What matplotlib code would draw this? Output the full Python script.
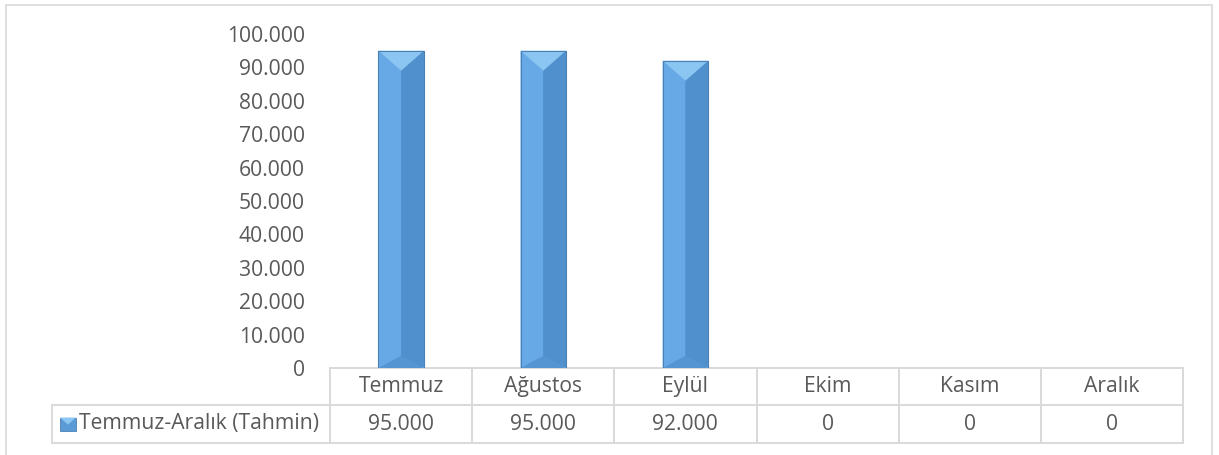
import matplotlib.pyplot as plt
from matplotlib.patches import Polygon, Rectangle
from matplotlib.transforms import blended_transform_factory

months = ["Temmuz", "Ağustos", "Eylül", "Ekim", "Kasım", "Aralık"]
values = [95000, 95000, 92000, 0, 0, 0]
value_labels = ["95.000", "95.000", "92.000", "0", "0", "0"]
series_name = "Temmuz-Aralık (Tahmin)"
yticks = list(range(0, 100001, 10000))
ytick_labels = ["0"] + [f"{v // 1000}.000" for v in yticks[1:]]

plt.rcParams['font.family'] = ['Open Sans', 'DejaVu Sans']
txt = "#595959"
grid = "#d9d9d9"
fsize = 15.2

fig = plt.figure(figsize=(12.19, 4.55), dpi=100)
ax = fig.add_axes([330 / 1219, 1 - 368 / 455, 853 / 1219, 334 / 455])

# outer chart border
fig.patches.append(Rectangle((6 / 1219, -0.05), 1206 / 1219, 1 - 5 / 455 + 0.05,
                             transform=fig.transFigure, fill=False,
                             edgecolor=grid, lw=1.2))

x = list(range(len(months)))
w = 0.32
bars = ax.bar(x, values, width=w, color="#5b9bd5", edgecolor="#4a7fb0", lw=0.6, zorder=2)

# bevel shading on each bar, built from the bar geometry
px = 100000 / 334
for b in bars:
    h = b.get_height()
    if h <= 0:
        continue
    x0, x1 = b.get_x(), b.get_x() + b.get_width()
    xm = (x0 + x1) / 2
    d = 20 * px
    db = 12 * px
    ax.add_patch(Polygon([(x0, 0), (xm, db), (xm, h - d), (x0, h)],
                         closed=True, color="#67a9e6", lw=0, zorder=3))
    ax.add_patch(Polygon([(x1, 0), (xm, db), (xm, h - d), (x1, h)],
                         closed=True, color="#5090cc", lw=0, zorder=3))
    ax.add_patch(Polygon([(x0, h), (x1, h), (xm, h - d)],
                         closed=True, color="#8bc6f2", lw=0, zorder=3))
    ax.add_patch(Polygon([(x0, 0), (x1, 0), (xm, db)],
                         closed=True, color="#5596d2", lw=0, zorder=3))
    ax.add_patch(Rectangle((x0, 0), x1 - x0, h, fill=False,
                           edgecolor="#4a80b4", lw=0.8, zorder=4))

ax.set_xlim(-0.5, len(months) - 0.5)
ax.set_ylim(0, 100000)
ax.set_yticks(yticks)
ax.set_yticklabels(ytick_labels, color=txt, fontsize=fsize)
ax.tick_params(axis="y", length=0, pad=18)
ax.set_xticks([])
for s in ax.spines.values():
    s.set_visible(False)

# data table below the plot
tr = blended_transform_factory(ax.transData, ax.transAxes)
y_top, y_mid, y_bot = 0.0, -37 / 334, -75 / 334
cw = 853 / 6
x_leg = -0.5 + (52 - 330) / cw
kw = dict(color=grid, lw=1.4, transform=tr, clip_on=False)
ax.plot([-0.5, 5.5], [y_top, y_top], **kw)
ax.plot([x_leg, 5.5], [y_mid, y_mid], **kw)
ax.plot([x_leg, 5.5], [y_bot, y_bot], **kw)
ax.plot([x_leg, x_leg], [y_mid, y_bot], **kw)
for i in range(len(months) + 1):
    ax.plot([i - 0.5, i - 0.5], [y_top, y_bot], **kw)

for i, (m, v) in enumerate(zip(months, value_labels)):
    ax.text(i, (y_top + y_mid) / 2, m, transform=tr, ha="center", va="center",
            color=txt, fontsize=fsize, clip_on=False)
    ax.text(i, (y_mid + y_bot) / 2, v, transform=tr, ha="center", va="center",
            color=txt, fontsize=fsize, clip_on=False)

# legend key + series name in the row label cell
yc = (y_mid + y_bot) / 2
kx = x_leg + 8 / cw
kwid = 16 / cw
khgt = 13 / 334
ax.add_patch(Rectangle((kx, yc - khgt / 2), kwid, khgt, transform=tr,
                       facecolor="#5b9bd5", edgecolor="#4a80b4", lw=0.6, clip_on=False))
ax.add_patch(Polygon([(kx, yc + khgt / 2), (kx + kwid, yc + khgt / 2),
                      (kx + kwid / 2, yc - khgt * 0.05)], transform=tr, color="#8bc6f2",
                     lw=0, clip_on=False))
ax.text(kx + kwid + 3 / cw, yc, series_name, transform=tr, ha="left",
        va="center", color=txt, fontsize=fsize, clip_on=False)

fig.savefig("out.png", dpi=100)
